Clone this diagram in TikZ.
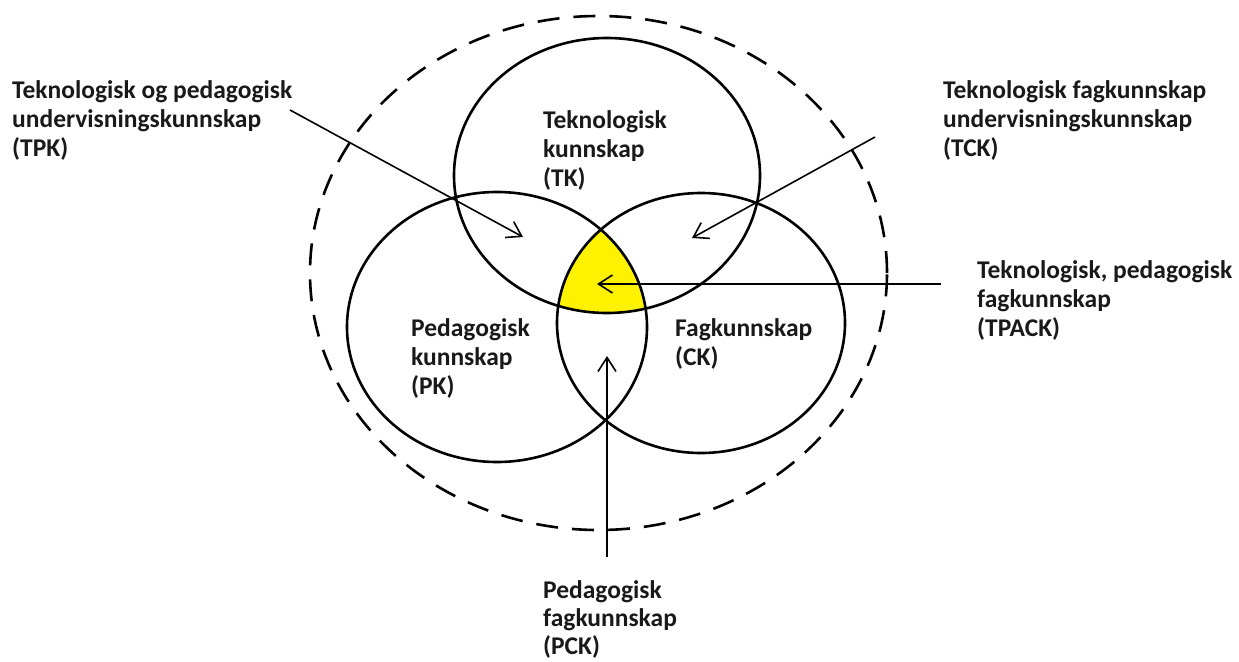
\documentclass[tikz,border=0pt]{standalone}
\usepackage{fontspec}
\setmainfont{Carlito}
\usetikzlibrary{shapes.geometric,arrows.meta}
\definecolor{venyellow}{RGB}{255,242,0}
\definecolor{txt}{RGB}{25,25,25}
\tikzset{
  ring/.style={draw, ellipse, line width=2.6pt, inner sep=0pt},
  outer/.style={draw, ellipse, line width=2.6pt, inner sep=0pt, dash pattern=on 22pt off 14pt},
  lab/.style={anchor=north west, inner sep=0pt, align=left, text=txt,
              font=\fontsize{25.5}{29}\selectfont\bfseries},
  pointer/.style={line width=1.6pt, -{Straight Barb[length=14pt,width=18pt,line width=1.6pt]}}
}
\begin{document}
\begin{tikzpicture}[x=1pt,y=-1pt]
\useasboundingbox (0,0) rectangle (1239,661);
% yellow centre
\begin{scope}
  \clip (607,175.5) ellipse [x radius=153, y radius=137.5];
  \clip (497,327) ellipse [x radius=150, y radius=135];
  \fill[venyellow] (701,323) ellipse [x radius=144, y radius=130];
\end{scope}
% circles
\node[outer, minimum width=577pt, minimum height=514pt] (all) at (598.5,273) {};
\node[ring, minimum width=306pt, minimum height=275pt] (tk) at (607,175.5) {};
\node[ring, minimum width=300pt, minimum height=270pt] (pk) at (497,327) {};
\node[ring, minimum width=288pt, minimum height=260pt] (ck) at (701,323) {};
% labels
\node[lab] (ltk) at (543,110) {Teknologisk\\kunnskap\\(TK)};
\node[lab] (lpk) at (411,318) {Pedagogisk\\kunnskap\\(PK)};
\node[lab] (lck) at (675,318) {Fagkunnskap\\(CK)};
\node[lab] (ltpk) at (12,80) {Teknologisk og pedagogisk\\undervisningskunnskap\\(TPK)};
\node[lab] (ltck) at (943,80) {Teknologisk fagkunnskap\\undervisningskunnskap\\(TCK)};
\node[lab] (ltpack) at (977,260) {Teknologisk, pedagogisk\\fagkunnskap\\(TPACK)};
\node[lab, font=\fontsize{25.5}{28}\selectfont\bfseries] (lpck) at (543,580) {Pedagogisk\\fagkunnskap\\(PCK)};
% connector ends
\coordinate (tpkS) at (290,110);
\coordinate (tpkE) at (523,237);
\coordinate (tckS) at (875,137);
\coordinate (tckE) at (692,238);
\coordinate (tpackS) at (941,284);
\coordinate (tpackE) at (597,284);
\coordinate (pckS) at (607,557);
\coordinate (pckE) at (607,356);
\draw[pointer] (tpkS) -- (tpkE);
\draw[pointer] (tckS) -- (tckE);
\draw[pointer] (tpackS) -- (tpackE);
\draw[pointer] (pckS) -- (pckE);
\end{tikzpicture}
\end{document}
